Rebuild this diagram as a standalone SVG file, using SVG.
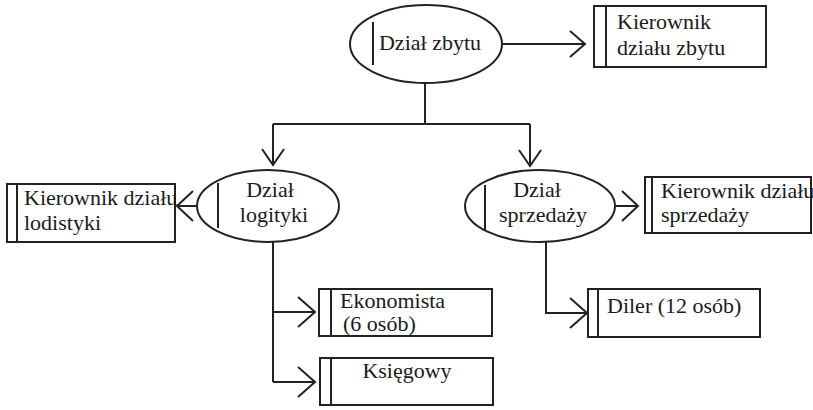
<svg xmlns="http://www.w3.org/2000/svg" width="813" height="410" viewBox="0 0 813 410">
<style>
.s{fill:none;stroke:#222;stroke-width:2}
.n{fill:#fff;stroke:#222;stroke-width:2}
text{font-family:'Liberation Serif','DejaVu Serif',serif;font-size:22px;fill:#1a1a1a}
.m{text-anchor:middle}
</style>
<rect width="813" height="410" fill="#fff"/>
<g id="connectors" class="s">
<path d="M503 44H585M570 31L585 44L570 57"/>
<path d="M425 83V124M273 124H530M273 124V165M262 149L273 165L284 149M530 124V166M519 150L530 166L541 150"/>
<path d="M197 206H177M193 191L177 206L193 221"/>
<path d="M615 206H638M622 191L638 206L622 221"/>
<path d="M273 242V382M273 312H315M298 297L315 312L298 327M273 382H315M298 367L315 382L298 397"/>
<path d="M546 242V313H587M570 298L587 313L570 328"/>
</g>
<g id="dzial-zbytu">
<ellipse class="n" cx="426" cy="44" rx="76" ry="39"/>
<path class="s" d="M373 22V65"/>
<text class="m" x="430" y="50">Dział zbytu</text>
</g>
<g id="kierownik-zbytu">
<rect class="n" x="594" y="6" width="172" height="61"/>
<path class="s" d="M606 6V67"/>
<text x="617" y="29">Kierownik</text>
<text x="617" y="55">działu zbytu</text>
</g>
<g id="dzial-logityki">
<ellipse class="n" cx="268" cy="206" rx="71" ry="36"/>
<path class="s" d="M218 183V228"/>
<text class="m" x="270" y="197">Dział</text>
<text class="m" x="274" y="222">logityki</text>
</g>
<g id="kierownik-lodistyki">
<rect class="n" x="7" y="184" width="168" height="58"/>
<path class="s" d="M17 184V242"/>
<text x="24" y="205">Kierownik działu</text>
<text x="24" y="230">lodistyki</text>
</g>
<g id="dzial-sprzedazy">
<ellipse class="n" cx="540" cy="206" rx="75" ry="36"/>
<path class="s" d="M485 185V230"/>
<text class="m" x="537" y="197">Dział</text>
<text class="m" x="543" y="222">sprzedaży</text>
</g>
<g id="kierownik-sprzedazy">
<rect class="n" x="645" y="177" width="166" height="56"/>
<path class="s" d="M652 177V233"/>
<text x="661" y="198">Kierownik działu</text>
<text x="661" y="222">sprzedaży</text>
</g>
<g id="ekonomista">
<rect class="n" x="319" y="289" width="173" height="47"/>
<path class="s" d="M331 289V336"/>
<text x="340" y="308">Ekonomista</text>
<text x="343" y="331">(6 osób)</text>
</g>
<g id="ksiegowy">
<rect class="n" x="320" y="358" width="173" height="47"/>
<path class="s" d="M331 358V405"/>
<text class="m" x="407" y="378">Księgowy</text>
</g>
<g id="diler">
<rect class="n" x="588" y="289" width="172" height="48"/>
<path class="s" d="M598 289V337"/>
<text x="607" y="313">Diler (12 osób)</text>
</g>
</svg>
